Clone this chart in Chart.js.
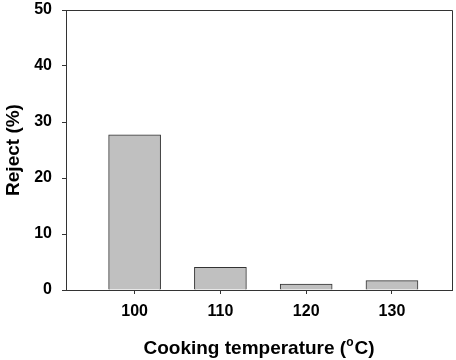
<!DOCTYPE html>
<html>
<head>
<meta charset="utf-8">
<script src="https://cdn.jsdelivr.net/npm/chart.js@4/dist/chart.umd.min.js"></script>
<style>
html,body{margin:0;padding:0;background:#fff;}
#wrap{width:456px;height:360px;}
</style>
</head>
<body>
<div id="wrap"><canvas id="c" width="456" height="360"></canvas></div>
<script>
const temperatures = [100, 110, 120, 130];
const rejectPercent = [27.7, 4.05, 1.07, 1.67];
const yTickValues = [0, 10, 20, 30, 40, 50];
const xTitleMain = "Cooking temperature (";
const xTitleSup = "o";
const xTitleEnd = "C)";
const yTitle = "Reject (%)";

const FONT = "'Liberation Sans', Arial, sans-serif";

const framePlugin = {
  id: 'frame',
  afterDraw(chart) {
    const {ctx, chartArea: a} = chart;
    ctx.save();
    ctx.strokeStyle = '#333';
    ctx.lineWidth = 1;
    ctx.beginPath();
    ctx.moveTo(Math.round(a.left) + 0.5, Math.round(a.top) + 0.5);
    ctx.lineTo(Math.round(a.right) + 0.5, Math.round(a.top) + 0.5);
    ctx.lineTo(Math.round(a.right) + 0.5, Math.round(a.bottom) + 0.5);
    ctx.stroke();

    ctx.fillStyle = '#000';
    ctx.font = "bold 19px " + FONT;
    ctx.textAlign = 'center';
    ctx.textBaseline = 'middle';
    ctx.save();
    ctx.translate(14, (a.top + a.bottom) / 2);
    ctx.rotate(-Math.PI / 2);
    ctx.fillText(yTitle, 0, 0);
    ctx.restore();

    const mainFont = "bold 19px " + FONT;
    const supFont = "bold 12px " + FONT;
    ctx.font = mainFont;
    const w1 = ctx.measureText(xTitleMain).width;
    const w3 = ctx.measureText(xTitleEnd).width;
    ctx.font = supFont;
    const w2 = ctx.measureText(xTitleSup).width + 1;
    const total = w1 + w2 + w3;
    let x = (a.left + a.right) / 2 - total / 2;
    const y = 348;
    ctx.textAlign = 'left';
    ctx.textBaseline = 'alphabetic';
    ctx.font = mainFont;
    ctx.fillText(xTitleMain, x, y + 6);
    x += w1;
    ctx.font = supFont;
    ctx.fillText(xTitleSup, x, y - 2);
    x += w2;
    ctx.font = mainFont;
    ctx.fillText(xTitleEnd, x, y + 6);
    ctx.restore();
  }
};

new Chart(document.getElementById('c'), {
  type: 'bar',
  data: {
    datasets: [{
      data: temperatures.map((t, i) => ({x: t, y: rejectPercent[i]})),
      backgroundColor: '#c0c0c0',
      borderColor: '#333',
      borderWidth: 1,
      borderSkipped: 'bottom',
      barThickness: 52
    }]
  },
  options: {
    responsive: false,
    animation: false,
    events: [],
    layout: {padding: {top: 10, right: 4, left: 0, bottom: 0}},
    plugins: {legend: {display: false}, tooltip: {enabled: false}},
    scales: {
      x: {
        type: 'linear',
        min: 92,
        max: 137,
        offset: false,
        afterBuildTicks(scale) { scale.ticks = temperatures.map(v => ({value: v})); },
        afterFit(scale) { scale.height = 70; scale.paddingLeft = 0; scale.paddingRight = 0; },
        grid: {drawOnChartArea: false, offset: false, tickLength: 4, color: '#333'},
        border: {color: '#333', width: 1},
        ticks: {
          color: '#000',
          font: {family: FONT, size: 16, weight: 'bold'},
          padding: 8,
          maxRotation: 0,
          callback: v => String(v)
        }
      },
      y: {
        min: 0,
        max: 50,
        afterBuildTicks(scale) { scale.ticks = yTickValues.map(v => ({value: v})); },
        afterFit(scale) { scale.width = 66; scale.paddingTop = 0; scale.paddingBottom = 0; },
        grid: {drawOnChartArea: false, tickLength: 4, color: '#333'},
        border: {color: '#333', width: 1},
        ticks: {
          color: '#000',
          font: {family: FONT, size: 16, weight: 'bold'},
          padding: 10,
          callback: v => String(v)
        }
      }
    }
  },
  plugins: [framePlugin]
});
</script>
</body>
</html>
